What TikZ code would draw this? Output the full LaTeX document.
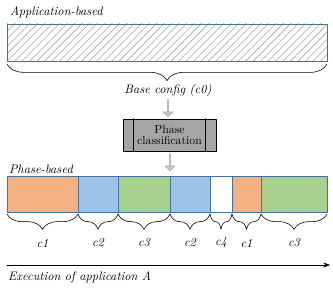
\documentclass[tikz,border=0pt]{standalone}
\usetikzlibrary{decorations.pathreplacing,shapes.arrows,patterns.meta,positioning,arrows.meta}
\definecolor{segorange}{HTML}{F4B183}
\definecolor{segblue}{HTML}{9DC3E6}
\definecolor{seggreen}{HTML}{A9D18E}
\definecolor{segline}{HTML}{41719C}
\definecolor{boxgray}{HTML}{A5A5A5}
\tikzset{
	segbox/.style={draw=segline, line width=0.8pt},
	brace/.style={decorate, decoration={brace, mirror, amplitude=#1}, line width=0.5pt},
	blockarrow/.style={single arrow, shape border rotate=270, draw=gray!75, fill=gray!45, minimum width=3mm, minimum height=5.2mm, single arrow head extend=0.8mm, inner sep=0pt},
	lbl/.style={font=\fontsize{10.5}{12}\selectfont\itshape}
}
\begin{document}
\begin{tikzpicture}[x=0.3mm,y=-0.3mm,>=Stealth, font=\normalsize, line join=round, line cap=round]
	\useasboundingbox (0,0) rectangle (333,292);
	\def\xl{7} \def\xr{327}
	% application-based
	\node[lbl, anchor=west] (app) at (6,12) {Application-based};
	\draw[segbox, pattern={Lines[angle=45, distance=4.5pt, line width=0.5pt]}, pattern color=gray!70] (\xl,24) rectangle (\xr,61);
	\draw[brace=5mm] (\xl,64) -- (\xr,64);
	\node[lbl] (base) at (168,90) {Base config (\textit{c0})};
	% classification
	\node[draw, line width=0.6pt, fill=boxgray, minimum width=27.9mm, minimum height=9.6mm, align=center, inner sep=1pt] (ph) at (169.5,135) {Phase\\[-2pt]classification};
	\draw[line width=0.6pt] ([xshift=3.3mm]ph.north west) -- ([xshift=3.3mm]ph.south west);
	\draw[line width=0.6pt] ([xshift=-3.3mm]ph.north east) -- ([xshift=-3.3mm]ph.south east);
	\node[blockarrow] (a1) at (168,108) {};
	\node[blockarrow] (a2) at (170,162) {};
	% phase-based
	\node[lbl, anchor=west] (pb) at (5,169) {Phase-based};
	\foreach \a/\b/\col/\lab [count=\i] in {7/78/segorange/c1, 78/118/segblue/c2, 118/170/seggreen/c3, 170/210/segblue/c2, 210/232/white/c4, 232/261/segorange/c1, 261/327/seggreen/c3}
	{\draw[segbox, fill=\col] (\a,176) rectangle (\b,212);
		\draw[brace=4.6mm] (\a,214) -- (\b,214);
		\node[lbl] (c\i) at ({(\a+\b)/2},243) {\lab};}
	% time axis
	\coordinate (t0) at (\xl,265);
	\coordinate (t1) at (330,265);
	\draw[->, line width=0.6pt] (t0) -- (t1);
	\node[lbl, anchor=west] (ex) at (4,277) {Execution of application A};
\end{tikzpicture}
\end{document}
